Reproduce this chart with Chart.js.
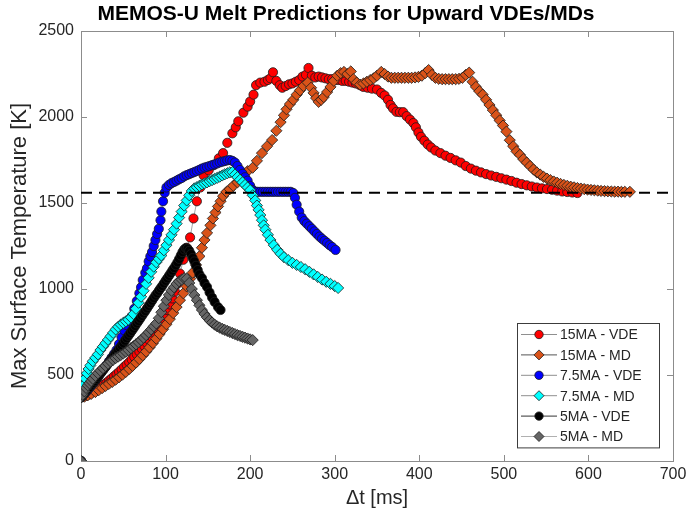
<!DOCTYPE html>
<html>
<head>
<meta charset="utf-8">
<script src="https://cdn.jsdelivr.net/npm/chart.js@4/dist/chart.umd.min.js"></script>
<style>
  html, body { margin: 0; padding: 0; background: #fff; }
</style>
</head>
<body>
<canvas id="melt_chart" width="692" height="517"></canvas>
<script>
/************ 데이터 ************/
const series_names = ['15MA - VDE', '15MA - MD', '7.5MA - VDE', '7.5MA - MD', '5MA - VDE', '5MA - MD'];

const t_15vde = [0, 0, 3, 6, 9, 12, 15, 18, 21, 24, 27, 30, 33, 36, 39, 42, 45, 48, 51, 54, 57, 60, 63, 66, 69, 72, 75, 78, 81, 84, 87, 90, 93, 96, 99, 102, 105, 108, 111, 114, 117, 121, 125, 129, 133, 137, 141, 145, 151, 157, 163, 168, 173, 179, 183, 186, 192, 197, 200, 204, 207, 212, 217, 221, 224, 227, 231, 235, 238, 242, 246, 250, 254, 258, 262, 266, 269, 273, 277, 281, 285, 289, 293, 297, 301, 305, 309, 313, 317, 321, 325, 330, 334, 339, 344, 350, 355, 359, 363, 366, 369, 373, 377, 381, 385, 389, 393, 396, 399, 402, 406, 410, 414, 419, 425, 431, 437, 443, 449, 455, 461, 467, 473, 479, 485, 491, 497, 503, 509, 515, 521, 527, 533, 539, 545, 551, 557, 563, 569, 575, 581, 587];
const T_15vde = [0, 370, 375, 380, 387, 395, 404, 413, 423, 434, 445, 455, 467, 479, 492, 505, 518, 532, 547, 560, 574, 590, 605, 620, 636, 652, 668, 685, 703, 722, 745, 770, 795, 820, 848, 878, 910, 945, 985, 1030, 1090, 1170, 1240, 1300, 1410, 1510, 1590, 1660, 1690, 1720, 1760, 1790, 1850, 1905, 1940, 1975, 2025, 2060, 2090, 2130, 2185, 2200, 2205, 2215, 2225, 2260, 2210, 2185, 2170, 2180, 2190, 2195, 2205, 2215, 2235, 2245, 2285, 2240, 2230, 2235, 2230, 2225, 2220, 2220, 2215, 2215, 2210, 2210, 2205, 2200, 2195, 2185, 2175, 2170, 2165, 2160, 2140, 2125, 2100, 2070, 2050, 2030, 2028, 2028, 2005, 1985, 1965, 1940, 1910, 1885, 1862, 1840, 1823, 1805, 1790, 1775, 1762, 1748, 1735, 1715, 1700, 1688, 1678, 1668, 1660, 1652, 1644, 1636, 1628, 1618, 1610, 1603, 1596, 1590, 1585, 1581, 1577, 1572, 1567, 1564, 1561, 1558];

const t_15md = [0, 0, 4, 8, 12, 17, 21, 25, 29, 33, 37, 41, 45, 49, 53, 57, 61, 65, 69, 73, 77, 81, 85, 89, 93, 97, 101, 105, 109, 113, 117, 121, 125, 129, 132, 136, 140, 143, 146, 149, 153, 156, 159, 162, 165, 168, 172, 176, 180, 185, 188, 192, 197, 203, 208, 214, 220, 226, 231, 236, 240, 243, 247, 251, 255, 259, 263, 268, 272, 275, 278, 281, 284, 287, 291, 295, 299, 303, 307, 311, 315, 319, 322, 326, 330, 334, 338, 342, 346, 350, 355, 359, 363, 367, 371, 375, 379, 383, 387, 391, 395, 399, 403, 407, 411, 415, 419, 423, 427, 431, 435, 439, 443, 447, 451, 455, 459, 463, 467, 471, 475, 479, 483, 487, 491, 495, 499, 503, 507, 511, 515, 519, 523, 527, 531, 535, 539, 543, 547, 551, 555, 559, 563, 567, 571, 575, 579, 583, 587, 591, 595, 599, 603, 607, 611, 615, 619, 623, 627, 631, 635, 639, 643, 649];
const T_15md = [0, 370, 374, 382, 390, 401, 412, 424, 436, 448, 460, 473, 487, 502, 518, 535, 553, 572, 592, 614, 636, 660, 685, 711, 738, 766, 795, 825, 860, 895, 935, 975, 1015, 1060, 1095, 1140, 1190, 1240, 1285, 1326, 1370, 1410, 1445, 1480, 1510, 1540, 1565, 1580, 1600, 1620, 1640, 1665, 1685, 1705, 1745, 1790, 1830, 1866, 1920, 1970, 2010, 2045, 2075, 2100, 2130, 2155, 2180, 2200, 2170, 2140, 2110, 2088, 2100, 2116, 2145, 2175, 2210, 2240, 2255, 2262, 2250, 2265, 2220, 2200, 2188, 2195, 2205, 2215, 2225, 2240, 2262, 2250, 2235, 2228, 2228, 2228, 2228, 2228, 2228, 2228, 2230, 2233, 2240, 2255, 2273, 2245, 2228, 2222, 2220, 2220, 2220, 2220, 2220, 2222, 2228, 2245, 2258, 2205, 2175, 2150, 2130, 2100, 2070, 2040, 2010, 1980, 1950, 1915, 1865, 1830, 1800, 1780, 1755, 1735, 1715, 1695, 1678, 1665, 1652, 1642, 1633, 1625, 1618, 1611, 1605, 1600, 1595, 1591, 1587, 1584, 1581, 1578, 1576, 1574, 1572, 1570, 1569, 1568, 1567, 1566, 1566, 1565, 1565, 1565];

const t_75vde = [0, 0, 3, 6, 9, 12, 15, 18, 21, 24, 27, 30, 33, 36, 39, 42, 45, 48, 51, 54, 57, 60, 63, 66, 69, 71, 73, 76, 78, 80, 82, 84, 86, 88, 90, 92, 94, 95, 97, 99, 101, 104, 107, 110, 113, 116, 119, 122, 125, 128, 131, 134, 137, 140, 143, 146, 149, 152, 155, 158, 161, 164, 167, 170, 173, 176, 179, 182, 185, 188, 191, 194, 197, 200, 203, 206, 209, 212, 215, 218, 221, 224, 227, 230, 233, 236, 239, 242, 245, 248, 251, 253, 255, 258, 261, 264, 267, 270, 273, 276, 279, 282, 285, 288, 291, 294, 297, 301];
const T_75vde = [0, 370, 385, 400, 418, 436, 455, 475, 495, 515, 535, 555, 578, 600, 622, 645, 680, 720, 760, 790, 815, 840, 885, 930, 975, 1010, 1052, 1095, 1120, 1160, 1190, 1215, 1250, 1285, 1320, 1350, 1400, 1450, 1510, 1560, 1590, 1605, 1615, 1622, 1630, 1638, 1645, 1655, 1662, 1668, 1674, 1680, 1686, 1693, 1700, 1706, 1710, 1715, 1720, 1725, 1730, 1736, 1740, 1744, 1748, 1750, 1745, 1735, 1715, 1692, 1670, 1650, 1630, 1600, 1575, 1566, 1565, 1565, 1565, 1565, 1565, 1565, 1565, 1565, 1565, 1565, 1565, 1565, 1565, 1565, 1558, 1530, 1490, 1450, 1415, 1395, 1380, 1365, 1350, 1335, 1320, 1305, 1292, 1280, 1268, 1255, 1244, 1227];

const t_75md = [0, 0, 1, 3, 5, 7, 9, 11, 14, 17, 20, 23, 26, 29, 32, 35, 38, 41, 44, 47, 50, 53, 56, 59, 62, 65, 68, 71, 74, 77, 80, 83, 86, 89, 92, 95, 98, 101, 104, 107, 110, 113, 116, 119, 122, 125, 128, 131, 134, 137, 140, 143, 146, 149, 152, 155, 158, 161, 164, 167, 170, 173, 176, 179, 182, 185, 188, 191, 194, 197, 200, 203, 206, 208, 210, 212, 214, 216, 218, 221, 224, 228, 232, 236, 240, 245, 250, 255, 260, 265, 270, 275, 280, 285, 290, 295, 300, 304];
const T_75md = [0, 370, 400, 440, 480, 510, 535, 555, 580, 600, 620, 645, 665, 685, 705, 725, 745, 765, 780, 793, 803, 812, 822, 835, 855, 885, 920, 955, 990, 1030, 1065, 1100, 1130, 1155, 1175, 1195, 1225, 1255, 1285, 1315, 1345, 1380, 1415, 1450, 1485, 1515, 1545, 1570, 1585, 1592, 1600, 1608, 1614, 1620, 1627, 1633, 1640, 1646, 1653, 1660, 1667, 1673, 1678, 1680, 1665, 1650, 1635, 1620, 1605, 1590, 1575, 1545, 1515, 1485, 1460, 1430, 1400, 1370, 1345, 1315, 1285, 1255, 1228, 1205, 1185, 1168, 1152, 1140, 1128, 1115, 1100, 1085, 1070, 1055, 1042, 1030, 1017, 1006];

const t_5vde = [0, 0, 2, 4, 6, 8, 10, 12, 14, 16, 18, 20, 22, 24, 26, 28, 30, 32, 34, 36, 38, 40, 42, 44, 46, 48, 50, 52, 54, 56, 58, 60, 62, 64, 66, 68, 70, 72, 74, 76, 78, 80, 82, 84, 86, 88, 90, 92, 94, 96, 98, 100, 102, 104, 106, 108, 110, 112, 114, 116, 118, 120, 122, 124, 126, 128, 130, 132, 134, 136, 138, 140, 143, 146, 149, 152, 155, 158, 162, 165];
const T_5vde = [0, 370, 380, 393, 405, 418, 430, 442, 453, 465, 477, 490, 502, 515, 527, 540, 553, 566, 580, 593, 606, 619, 632, 645, 658, 672, 686, 700, 714, 728, 742, 756, 770, 785, 800, 814, 828, 843, 858, 872, 887, 902, 917, 932, 947, 962, 975, 990, 1004, 1018, 1033, 1048, 1062, 1077, 1092, 1107, 1122, 1138, 1155, 1175, 1195, 1215, 1230, 1238, 1234, 1222, 1203, 1180, 1160, 1135, 1110, 1085, 1064, 1035, 1012, 980, 950, 925, 895, 878];

const t_5md = [0, 0, 2, 4, 6, 8, 10, 12, 14, 17, 20, 23, 26, 29, 32, 35, 38, 41, 44, 47, 50, 53, 56, 59, 62, 65, 68, 71, 74, 77, 80, 83, 86, 89, 92, 95, 98, 101, 104, 107, 110, 113, 116, 119, 122, 125, 128, 131, 134, 137, 140, 143, 146, 149, 152, 155, 158, 161, 164, 167, 170, 173, 176, 179, 182, 185, 188, 191, 194, 197, 200, 203];
const T_5md = [0, 370, 385, 405, 425, 440, 452, 465, 478, 495, 510, 525, 540, 553, 566, 578, 588, 598, 607, 616, 625, 635, 645, 656, 667, 678, 690, 703, 717, 732, 748, 765, 783, 800, 830, 865, 900, 935, 965, 990, 1010, 1030, 1045, 1055, 1063, 1060, 1035, 1000, 965, 935, 905, 878, 855, 835, 818, 805, 793, 783, 775, 768, 762, 756, 750, 744, 738, 732, 727, 722, 717, 712, 707, 703];

// 용융 기준 온도 (점선)
const melt_t = [0, 700];
const melt_T = [1560, 1560];

const x_ticks = [0, 100, 200, 300, 400, 500, 600, 700];
const y_ticks = [0, 500, 1000, 1500, 2000, 2500];

/************ 차트 ************/
const font_family = "'Liberation Sans', Arial, sans-serif";
const text_color = '#262626';
const box_color = '#8c8c8c';

function to_xy(ts, vs) {
  return ts.map((t, i) => ({ x: t, y: vs[i] }));
}

function make_set(i, ts, vs, fill, style, line, order) {
  return {
    label: series_names[i],
    data: to_xy(ts, vs),
    showLine: true,
    borderColor: line,
    borderWidth: 0.8,
    backgroundColor: fill,
    pointBackgroundColor: fill,
    pointBorderColor: '#1a1a1a',
    pointBorderWidth: 0.8,
    pointStyle: style,
    pointRadius: style === 'circle' ? 4.6 : 5.6,
    order: order
  };
}

const datasets = [
  make_set(0, t_15vde, T_15vde, '#ff0000', 'circle', '#8f8f8f', 7),
  make_set(1, t_15md, T_15md, '#d95319', 'rectRot', '#555555', 6),
  make_set(2, t_75vde, T_75vde, '#0000ff', 'circle', '#8f8f8f', 5),
  make_set(3, t_75md, T_75md, '#00ffff', 'rectRot', '#8f8f8f', 4),
  make_set(4, t_5vde, T_5vde, '#000000', 'circle', '#333333', 3),
  make_set(5, t_5md, T_5md, '#666666', 'rectRot', '#b0b0b0', 2),
  {
    label: '',
    data: to_xy(melt_t, melt_T),
    showLine: true,
    borderColor: '#000000',
    borderWidth: 2,
    borderDash: [11, 7],
    pointRadius: 0,
    order: 1
  }
];

// 축 상자와 안쪽 눈금
const axis_box = {
  id: 'axis_box',
  beforeDatasetsDraw(chart) {
    const { ctx, chartArea: a, scales: { x, y } } = chart;
    ctx.save();
    ctx.strokeStyle = box_color;
    ctx.lineWidth = 1;
    ctx.strokeRect(a.left + 0.5, a.top + 0.5, a.right - a.left, a.bottom - a.top);
    ctx.beginPath();
    x.ticks.forEach(t => {
      const px = Math.round(x.getPixelForValue(t.value)) + 0.5;
      ctx.moveTo(px, a.bottom); ctx.lineTo(px, a.bottom - 6);
      ctx.moveTo(px, a.top); ctx.lineTo(px, a.top + 6);
    });
    y.ticks.forEach(t => {
      const py = Math.round(y.getPixelForValue(t.value)) + 0.5;
      ctx.moveTo(a.left, py); ctx.lineTo(a.left + 6, py);
      ctx.moveTo(a.right, py); ctx.lineTo(a.right - 6, py);
    });
    ctx.stroke();
    ctx.restore();
  }
};

// 오른쪽 아래 범례
const box_legend = {
  id: 'box_legend',
  afterDraw(chart) {
    const ctx = chart.ctx;
    const items = chart.data.datasets.filter(d => d.label);
    const left = 517, top = 323, w = 142, row = 20.4;
    ctx.save();
    ctx.fillStyle = '#ffffff';
    ctx.fillRect(left, top, w, items.length * row + 2);
    ctx.strokeStyle = '#3c3c3c';
    ctx.lineWidth = 1;
    ctx.strokeRect(left + 0.5, top + 0.5, w, items.length * row + 2);
    ctx.font = '14px ' + font_family;
    ctx.textBaseline = 'middle';
    items.forEach((d, i) => {
      const cy = top + 11.5 + i * row;
      ctx.strokeStyle = d.borderColor;
      ctx.lineWidth = 1;
      ctx.beginPath();
      ctx.moveTo(521, cy); ctx.lineTo(557, cy);
      ctx.stroke();
      ctx.fillStyle = d.pointBackgroundColor;
      ctx.strokeStyle = d.pointBorderColor;
      ctx.lineWidth = d.pointBorderWidth;
      Chart.helpers.drawPoint(ctx, {
        pointStyle: d.pointStyle,
        radius: d.pointStyle === 'circle' ? 4.2 : 5,
        borderWidth: d.pointBorderWidth,
        rotation: 0
      }, 539, cy);
      ctx.fillStyle = text_color;
      ctx.fillText(d.label, 560, cy + 1);
    });
    ctx.restore();
  }
};

new Chart(document.getElementById('melt_chart'), {
  type: 'scatter',
  data: { datasets: datasets },
  options: {
    responsive: false,
    animation: false,
    devicePixelRatio: 1,
    layout: { padding: 0 },
    plugins: {
      legend: { display: false },
      tooltip: { enabled: false },
      title: {
        display: true,
        text: 'MEMOS-U Melt Predictions for Upward VDEs/MDs',
        color: '#000000',
        font: { family: font_family, size: 21, weight: 'bold', lineHeight: 1.2 },
        padding: { top: 2, bottom: 3.8 }
      }
    },
    scales: {
      x: {
        type: 'linear',
        min: 0,
        max: 700,
        afterBuildTicks: s => { s.ticks = x_ticks.map(v => ({ value: v })); },
        afterFit: s => { s.height = 56; },
        ticks: { color: text_color, font: { family: font_family, size: 16 }, padding: 4, callback: v => String(v) },
        grid: { display: false, drawTicks: false },
        border: { display: false },
        title: {
          display: true,
          text: '\u0394t [ms]',
          color: text_color,
          font: { family: font_family, size: 20 },
          padding: { top: 0, bottom: 7 }
        }
      },
      y: {
        type: 'linear',
        min: 0,
        max: 2500,
        afterBuildTicks: s => { s.ticks = y_ticks.map(v => ({ value: v })); },
        afterFit: s => { s.width = 81; },
        ticks: { color: text_color, font: { family: font_family, size: 16 }, padding: 7, callback: v => String(v) },
        grid: { display: false, drawTicks: false },
        border: { display: false },
        title: {
          display: true,
          text: 'Max Surface Temperature [K]',
          color: text_color,
          font: { family: font_family, size: 22 },
          padding: { top: 7, bottom: 0 }
        }
      },
      // 오른쪽 여백용 빈 축
      y_pad: {
        type: 'linear',
        position: 'right',
        min: 0,
        max: 2500,
        afterFit: s => { s.width = 19; },
        ticks: { display: false },
        grid: { display: false, drawTicks: false },
        border: { display: false }
      }
    }
  },
  plugins: [axis_box, box_legend]
});
</script>
</body>
</html>
